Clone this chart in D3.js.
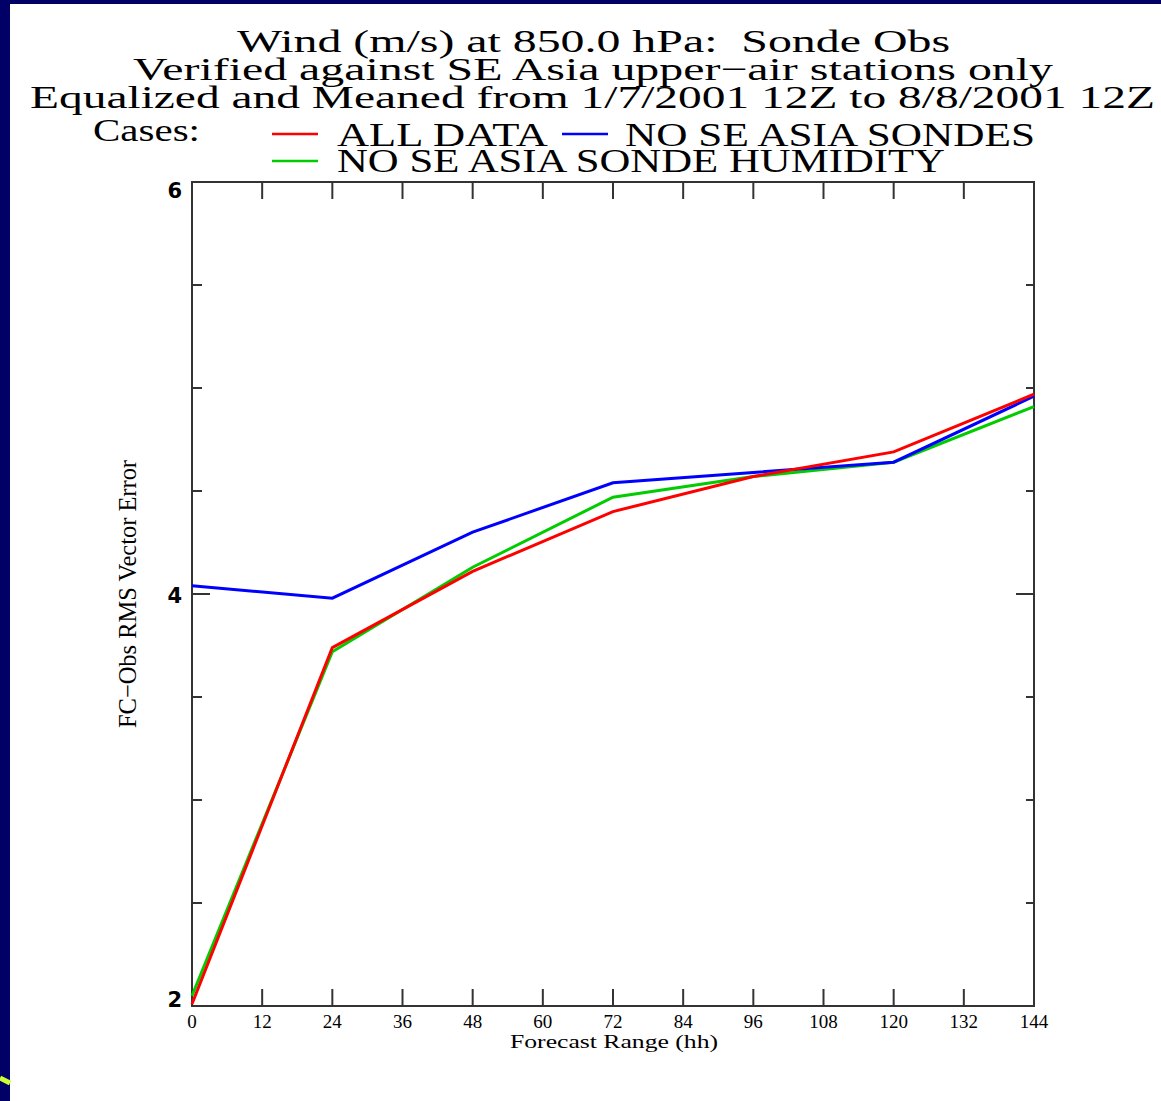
<!DOCTYPE html>
<html>
<head>
<meta charset="utf-8">
<script src="https://cdn.jsdelivr.net/npm/d3@7"></script>
<style>
  html, body { margin: 0; padding: 0; background: #fff; }
  svg { display: block; }
  text { font-family: "Liberation Serif", "DejaVu Serif", serif; fill: #000; white-space: pre; }
</style>
</head>
<body>
<main></main>
<script>
// forecast range (hh) and RMS vector error per case
const hours = [0, 24, 48, 72, 96, 120, 144];
const allData = [2.01, 3.74, 4.11, 4.40, 4.57, 4.69, 4.97];
const noSondes = [4.04, 3.98, 4.30, 4.54, 4.59, 4.64, 4.96];
const noHumidity = [2.05, 3.72, 4.13, 4.47, 4.57, 4.64, 4.91];

const xTicks = [0, 12, 24, 36, 48, 60, 72, 84, 96, 108, 120, 132, 144];
const yMajor = [2, 4, 6];
const yMinor = [2.5, 3, 3.5, 4.5, 5, 5.5];

const titleLines = [
    "Wind (m/s) at 850.0 hPa:  Sonde Obs",
    "Verified against SE Asia upper\u2212air stations only",
    "Equalized and Meaned from 1/7/2001 12Z to 8/8/2001 12Z"
];

const series = [
    { name: "ALL DATA", values: allData, color: "#ff0000" },
    { name: "NO SE ASIA SONDES", values: noSondes, color: "#0000ff" },
    { name: "NO SE ASIA SONDE HUMIDITY", values: noHumidity, color: "#00cc00" }
];

const width = 1161, height = 1101;
const svg = d3.select('main').append('svg')
    .attr('width', width)
    .attr('height', height);

// navy slide frame
svg.append('rect').attr('x', 0).attr('y', 0).attr('width', width).attr('height', 4).attr('fill', '#000066');
svg.append('rect').attr('x', 0).attr('y', 0).attr('width', 10).attr('height', height).attr('fill', '#000066');
svg.append('path')
    .attr('d', 'M0,1078 L10,1083')
    .attr('stroke', '#ccff33')
    .attr('stroke-width', 5)
    .attr('fill', 'none');

const plot = { left: 192, right: 1034, top: 182, bottom: 1006 };

const x = d3.scaleLinear().domain([0, 144]).range([plot.left, plot.right]);
const y = d3.scaleLinear().domain([2, 6]).range([plot.bottom, plot.top]);

// title
const titleSpans = [[237, 950, 52], [133, 1053, 80], [30, 1155, 108]];
titleLines.forEach((t, i) => {
    const [x0, x1, by] = titleSpans[i];
    svg.append('text')
        .attr('x', x0)
        .attr('y', by)
        .attr('font-size', 32)
        .attr('textLength', x1 - x0)
        .attr('lengthAdjust', 'spacingAndGlyphs')
        .text(t);
});

// legend
svg.append('text').attr('x', 93).attr('y', 141).attr('font-size', 32)
    .attr('textLength', 107).attr('lengthAdjust', 'spacingAndGlyphs').text('Cases:');

const legendPos = [
    { lx: 272, ly: 134, tx: 337, tw: 211, ty: 146 },
    { lx: 562, ly: 134, tx: 625, tw: 410, ty: 146 },
    { lx: 272, ly: 161, tx: 337, tw: 608, ty: 172 }
];
series.forEach((s, i) => {
    const p = legendPos[i];
    svg.append('line')
        .attr('x1', p.lx).attr('x2', p.lx + 46)
        .attr('y1', p.ly).attr('y2', p.ly)
        .attr('stroke', s.color).attr('stroke-width', 2.5);
    svg.append('text')
        .attr('x', p.tx).attr('y', p.ty)
        .attr('font-size', 34)
        .attr('textLength', p.tw)
        .attr('lengthAdjust', 'spacingAndGlyphs')
        .text(s.name);
});

// frame
svg.append('rect')
    .attr('x', plot.left).attr('y', plot.top)
    .attr('width', plot.right - plot.left)
    .attr('height', plot.bottom - plot.top)
    .attr('fill', 'none')
    .attr('stroke', '#333')
    .attr('stroke-width', 2);

// x ticks (inward, top and bottom)
const tickG = svg.append('g').attr('stroke', '#333').attr('stroke-width', 2);
xTicks.slice(1, -1).forEach(t => {
    tickG.append('line').attr('x1', x(t)).attr('x2', x(t)).attr('y1', plot.bottom).attr('y2', plot.bottom - 17);
    tickG.append('line').attr('x1', x(t)).attr('x2', x(t)).attr('y1', plot.top).attr('y2', plot.top + 17);
});
// y ticks
yMajor.slice(1, -1).forEach(t => {
    tickG.append('line').attr('x1', plot.left).attr('x2', plot.left + 18).attr('y1', y(t)).attr('y2', y(t));
    tickG.append('line').attr('x1', plot.right).attr('x2', plot.right - 18).attr('y1', y(t)).attr('y2', y(t));
});
yMinor.forEach(t => {
    tickG.append('line').attr('x1', plot.left).attr('x2', plot.left + 10).attr('y1', y(t)).attr('y2', y(t));
    tickG.append('line').attr('x1', plot.right).attr('x2', plot.right - 8).attr('y1', y(t)).attr('y2', y(t));
});

// tick labels
svg.append('g').selectAll('text')
    .data(xTicks)
    .enter()
    .append('text')
    .attr('x', d => x(d))
    .attr('y', plot.bottom + 22)
    .attr('text-anchor', 'middle')
    .attr('font-size', 19)
    .text(d => d);

// baseline offsets of the bold y labels, as placed in the original
const yLabelShift = { 2: 1, 4: 9, 6: 16 };
svg.append('g').selectAll('text')
    .data(yMajor)
    .enter()
    .append('text')
    .attr('x', plot.left - 10)
    .attr('y', d => y(d) + yLabelShift[d])
    .attr('text-anchor', 'end')
    .style('font-family', '"DejaVu Sans", sans-serif')
    .style('font-size', '21px')
    .style('font-weight', 'bold')
    .text(d => d);

// axis titles
svg.append('text')
    .attr('x', 510).attr('y', 1048)
    .attr('font-size', 19)
    .attr('textLength', 208)
    .attr('lengthAdjust', 'spacingAndGlyphs')
    .text('Forecast Range (hh)');

svg.append('text')
    .attr('transform', 'translate(136,728) rotate(-90)')
    .attr('font-size', 25)
    .attr('textLength', 268)
    .attr('lengthAdjust', 'spacingAndGlyphs')
    .text('FC\u2212Obs RMS Vector Error');

// data lines
const line = d3.line()
    .x((d, i) => x(hours[i]))
    .y(d => y(d));

const drawOrder = [2, 1, 0];
drawOrder.forEach(i => {
    svg.append('path')
        .datum(series[i].values)
        .attr('fill', 'none')
        .attr('stroke', series[i].color)
        .attr('stroke-width', 3)
        .attr('d', line);
});
</script>
</body>
</html>
